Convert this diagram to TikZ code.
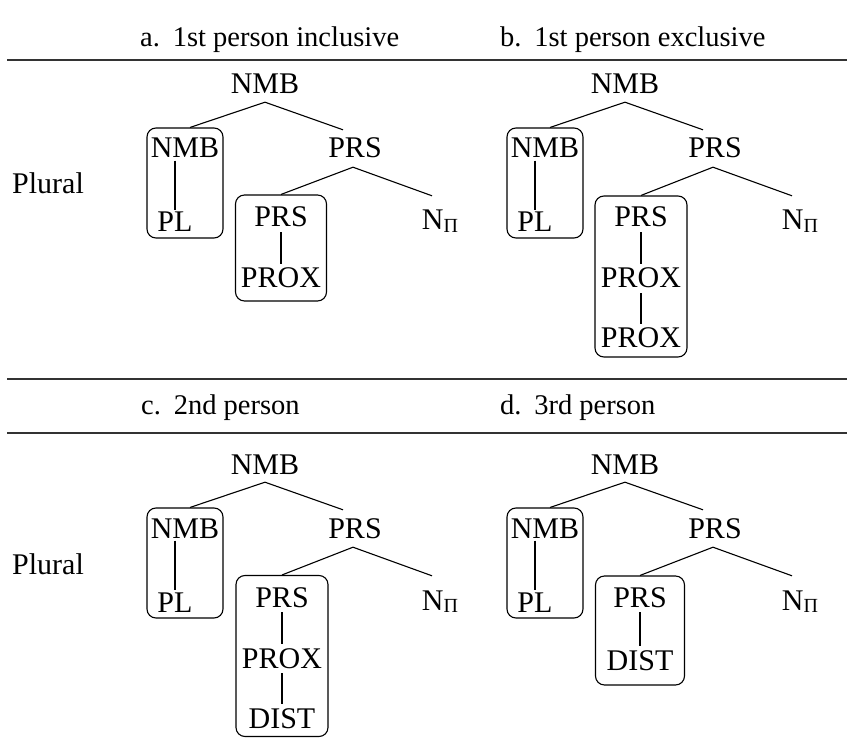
\documentclass[tikz,border=0pt]{standalone}
\usepackage{fontspec}
\setmainfont{Liberation Serif}
\begin{document}
\begin{tikzpicture}[x=1pt,y=-1pt,
  lab/.style={inner sep=0pt, text height=20pt, text depth=0pt, font=\fontsize{30}{36}\selectfont},
  hdr/.style={anchor=base west, inner sep=0pt, font=\fontsize{28.5}{34}\selectfont},
  bx/.style={draw, rounded corners=9pt, line width=1.1pt, inner sep=0pt},
  edge/.style={line width=1.1pt},
  vedge/.style={line width=1.1pt, shorten <=5pt, shorten >=4pt},
  rulel/.style={line width=1.6pt, draw=black!80}]
\useasboundingbox (0,0) rectangle (847,738);

\newcommand{\treepanel}[3]{%
\begin{scope}[shift={(#2,#3)}]
  \node[lab] (#1root) at (265,84) {NMB};
  \node[bx, minimum width=76pt, minimum height=110pt] (#1lbox) at (185,183) {};
  \node[lab] (#1nmb) at (185,148) {NMB};
  \node[lab] (#1pl) at (175,222) {PL};
  \node[lab] (#1prs) at (355,148) {PRS};
  \node[lab] (#1npi) at (440,220) {N\raisebox{-2.5pt}{\fontsize{20}{20}\selectfont Π}};
  \coordinate (#1apex) at ([yshift=-8pt]#1root.south);
  \coordinate (#1papex) at ([xshift=-2pt,yshift=-9pt]#1prs.south);
  \coordinate (#1nmbb) at (#1pl.north |- #1nmb.south);
  \draw[edge] (#1apex) -- ([xshift=5pt]#1lbox.north);
  \draw[edge] (#1apex) -- ([xshift=-12pt,yshift=8pt]#1prs.north);
  \draw[edge, shorten <=2.5pt, shorten >=2pt] (#1nmbb) -- (#1pl.north);
  \draw[edge] (#1papex) -- ([xshift=-8pt,yshift=14pt]#1npi.north);
\end{scope}}

% headers and rules
\node[hdr] (ha) at (140,47) {a.\hspace{0.45em}1st person inclusive};
\node[hdr] (hb) at (500,47) {b.\hspace{0.45em}1st person exclusive};
\node[hdr] (hc) at (141,414) {c.\hspace{0.45em}2nd person};
\node[hdr] (hd) at (500,414) {d.\hspace{0.45em}3rd person};
\coordinate (r1a) at (7,60);   \coordinate (r1b) at (847,60);
\coordinate (r2a) at (7,379);  \coordinate (r2b) at (847,379);
\coordinate (r3a) at (7,433);  \coordinate (r3b) at (847,433);
\draw[rulel] (r1a) -- (r1b);
\draw[rulel] (r2a) -- (r2b);
\draw[rulel] (r3a) -- (r3b);

\node[hdr, font=\fontsize{30}{36}\selectfont] (plA) at (12,194) {Plural};
\node[hdr, font=\fontsize{30}{36}\selectfont] (plC) at (12,574) {Plural};

\treepanel{a}{0}{0}
\treepanel{b}{360}{0}
\treepanel{c}{0}{380}
\treepanel{d}{360}{380}

% panel a inner box
\begin{scope}
  \node[bx, minimum width=91pt, minimum height=106pt] (aibox) at (281,248) {};
  \node[lab] (ai1) at (281,217) {PRS};
  \node[lab] (ai2) at (281,278) {PROX};
  \draw[vedge] (ai1) -- (ai2);
  \draw[edge] (apapex) -- (aibox.north);
\end{scope}
% panel b inner box
\begin{scope}[shift={(360,0)}]
  \node[bx, minimum width=92pt, minimum height=161pt] (bibox) at (281,276.5) {};
  \node[lab] (bi1) at (281,217) {PRS};
  \node[lab] (bi2) at (281,278) {PROX};
  \node[lab] (bi3) at (281,338) {PROX};
  \draw[vedge] (bi1) -- (bi2);
  \draw[vedge] (bi2) -- (bi3);
  \draw[edge] (bpapex) -- (bibox.north);
\end{scope}
% panel c inner box
\begin{scope}[shift={(0,380)}]
  \node[bx, minimum width=92pt, minimum height=161pt] (cibox) at (282,276) {};
  \node[lab] (ci1) at (282,217) {PRS};
  \node[lab] (ci2) at (282,278) {PROX};
  \node[lab] (ci3) at (282,338) {DIST};
  \draw[vedge] (ci1) -- (ci2);
  \draw[vedge] (ci2) -- (ci3);
  \draw[edge] (cpapex) -- (cibox.north);
\end{scope}
% panel d inner box
\begin{scope}[shift={(360,380)}]
  \node[bx, minimum width=89pt, minimum height=109pt] (dibox) at (280,250.5) {};
  \node[lab] (di1) at (280,217) {PRS};
  \node[lab] (di2) at (280,280) {DIST};
  \draw[vedge] (di1) -- (di2);
  \draw[edge] (dpapex) -- (dibox.north);
\end{scope}
\end{tikzpicture}
\end{document}
